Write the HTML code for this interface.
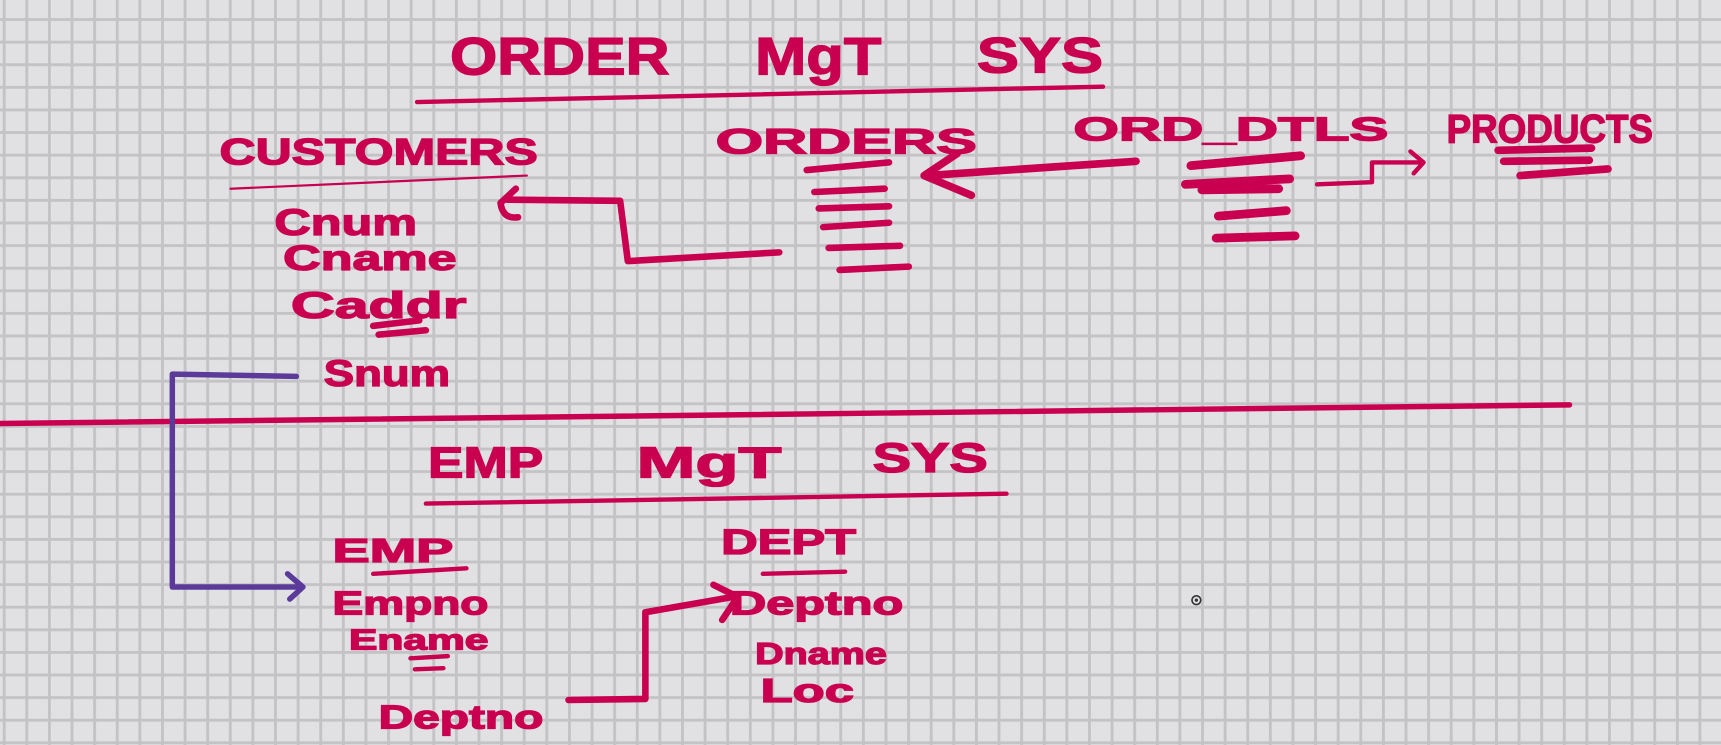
<!DOCTYPE html>
<html><head><meta charset="utf-8"><style>
html,body{margin:0;padding:0;width:1721px;height:745px;overflow:hidden;background:#e1e1e3}
svg{display:block}
text{font-family:"Liberation Sans",sans-serif;font-weight:bold;fill:#c8004f;stroke:#c8004f;stroke-width:1.2}
</style></head><body>
<svg width="1721" height="745" viewBox="0 0 1568 679" preserveAspectRatio="none" xmlns="http://www.w3.org/2000/svg">
<defs>
<pattern id="g" x="2.5" y="16.5" width="20.6" height="20.6" patternUnits="userSpaceOnUse">
<rect width="20.6" height="20.6" fill="#e1e1e3"/>
<rect x="0" y="0" width="2.6" height="20.6" fill="#c3c3c5"/>
<rect x="0" y="0" width="20.6" height="2.6" fill="#c3c3c5"/>
</pattern>
</defs>
<rect width="1568" height="679" fill="url(#g)"/>
<g stroke="#c8004f" stroke-linecap="round" stroke-linejoin="round" fill="none">
<path d="M380 93 L1005 79" stroke-width="4"/>
<path d="M210 172 L480 160" stroke-width="2"/>
<path d="M340 297 L382 292 M345 305 L388 301" stroke-width="6"/>
<path d="M735 155 L810 148 M742 175 L806 172 M746 190 L810 188 M750 207 L810 203 M755 226 L820 224 M765 246 L828 243" stroke-width="6"/>
<path d="M1035 147 L845 160" stroke-width="7"/>
<path d="M872 140 L842 160 L885 178" stroke-width="7"/>
<path d="M710 230 L572 238 L565 183 L462 182" stroke-width="6"/>
<path d="M470 172 L456 185 Q458 200 472 198" stroke-width="6"/>
<path d="M1085 151 L1185 142 M1080 168 L1175 163 M1095 173 L1165 172 M1110 197 L1172 192 M1108 217 L1180 215" stroke-width="8"/>
<path d="M1200 168 L1250 166 L1250 148 L1293 148" stroke-width="4"/>
<path d="M1285 138 L1297 148 L1288 158" stroke-width="4"/>
<path d="M1365 137 L1450 135 M1370 147 L1448 146 M1385 160 L1465 154" stroke-width="7"/>
<path d="M0 386 L1430 369" stroke-width="5"/>
<path d="M388 459 L917 450" stroke-width="4"/>
<path d="M340 523 L425 518" stroke-width="4"/>
<path d="M374 600 L408 598 M378 610 L404 609" stroke-width="4"/>
<path d="M695 523 L770 521" stroke-width="4"/>
<path d="M518 638 L588 637 L588 558 L668 544" stroke-width="6"/>
<path d="M650 533 L672 544 L658 565" stroke-width="6"/>
</g>
<g stroke="#5b3a99" stroke-width="5" fill="none" stroke-linecap="round" stroke-linejoin="round">
<path d="M270 343 L157 341 L157 535 L272 535"/>
<path d="M262 523 L276 535 L264 546"/>
</g>
<circle cx="1090" cy="547" r="4" fill="none" stroke="#333" stroke-width="1.5"/>
<circle cx="1090" cy="547" r="1.5" fill="#333"/>
<text x="410" y="68" font-size="48" textLength="200" lengthAdjust="spacingAndGlyphs">ORDER</text>
<text x="688" y="68" font-size="48" textLength="115" lengthAdjust="spacingAndGlyphs">MgT</text>
<text x="890" y="66" font-size="46" textLength="115" lengthAdjust="spacingAndGlyphs">SYS</text>
<text x="200" y="150" font-size="34" textLength="290" lengthAdjust="spacingAndGlyphs">CUSTOMERS</text>
<text x="250" y="214" font-size="34" textLength="130" lengthAdjust="spacingAndGlyphs">Cnum</text>
<text x="258" y="246" font-size="32" textLength="158" lengthAdjust="spacingAndGlyphs">Cname</text>
<text x="265" y="290" font-size="34" textLength="160" lengthAdjust="spacingAndGlyphs">Caddr</text>
<text x="295" y="352" font-size="34" textLength="115" lengthAdjust="spacingAndGlyphs">Snum</text>
<text x="652" y="140" font-size="32" textLength="238" lengthAdjust="spacingAndGlyphs">ORDERS</text>
<text x="978" y="128" font-size="30" textLength="287" lengthAdjust="spacingAndGlyphs">ORD_DTLS</text>
<text x="1318" y="130" font-size="36" textLength="188" lengthAdjust="spacingAndGlyphs">PRODUCTS</text>
<text x="390" y="435" font-size="40" textLength="105" lengthAdjust="spacingAndGlyphs">EMP</text>
<text x="580" y="435" font-size="40" textLength="132" lengthAdjust="spacingAndGlyphs">MgT</text>
<text x="795" y="430" font-size="38" textLength="105" lengthAdjust="spacingAndGlyphs">SYS</text>
<text x="303" y="512" font-size="30" textLength="110" lengthAdjust="spacingAndGlyphs">EMP</text>
<text x="303" y="560" font-size="30" textLength="142" lengthAdjust="spacingAndGlyphs">Empno</text>
<text x="318" y="592" font-size="26" textLength="127" lengthAdjust="spacingAndGlyphs">Ename</text>
<text x="345" y="664" font-size="30" textLength="150" lengthAdjust="spacingAndGlyphs">Deptno</text>
<text x="657" y="505" font-size="32" textLength="123" lengthAdjust="spacingAndGlyphs">DEPT</text>
<text x="665" y="560" font-size="30" textLength="158" lengthAdjust="spacingAndGlyphs">Deptno</text>
<text x="688" y="605" font-size="28" textLength="120" lengthAdjust="spacingAndGlyphs">Dname</text>
<text x="693" y="640" font-size="30" textLength="85" lengthAdjust="spacingAndGlyphs">Loc</text>
</svg>
</body></html>
